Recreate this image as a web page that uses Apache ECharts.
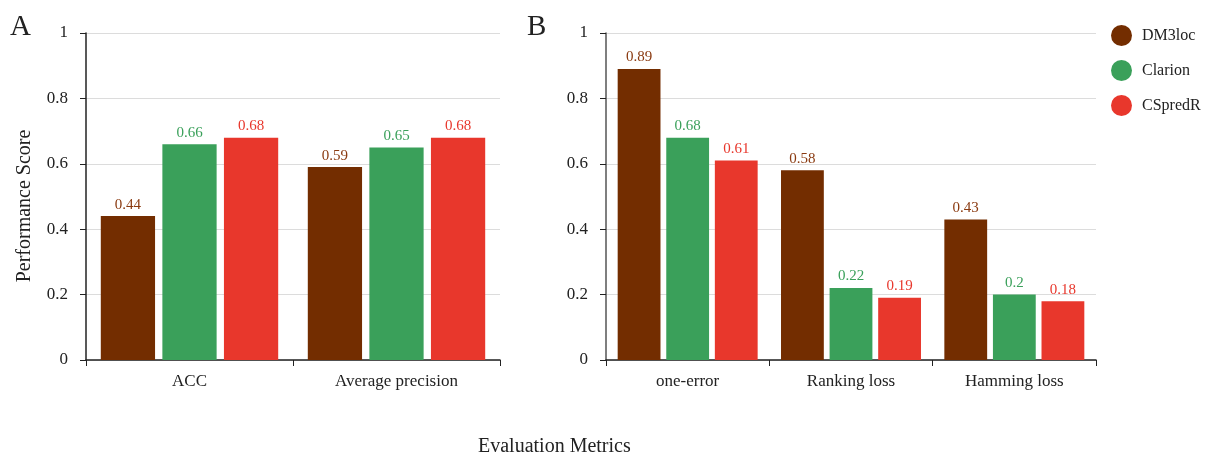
<!DOCTYPE html>
<html><head><meta charset="utf-8">
<script src="https://cdn.jsdelivr.net/npm/echarts@6/dist/echarts.min.js"></script>
<style>html,body{margin:0;padding:0;background:#fff}#c{width:1205px;height:459px}</style>
</head><body><div id="c"></div>
<script>
const seriesNames = ['DM3loc', 'Clarion', 'CSpredR'];
const categoriesA = ['ACC', 'Average precision'];
const categoriesB = ['one-error', 'Ranking loss', 'Hamming loss'];
const dm3locA = [0.44, 0.59];
const clarionA = [0.66, 0.65];
const cspredrA = [0.68, 0.68];
const dm3locB = [0.89, 0.58, 0.43];
const clarionB = [0.68, 0.22, 0.20];
const cspredrB = [0.61, 0.19, 0.18];
const yTicks = [0, 0.2, 0.4, 0.6, 0.8, 1];

const colors = ['#732d00', '#3aa05a', '#e8372c'];
const labelColors = ['#8a3a10', '#3aa05a', '#e8372c'];
const FONT = '"Liberation Serif", "DejaVu Serif", serif';

const chart = echarts.init(document.getElementById('c'), null, {renderer: 'canvas'});

function yAxis(gi) {
  return {
    type: 'value', gridIndex: gi, min: 0, max: 1, interval: 0.2,
    axisLine: {show: true, lineStyle: {color: gi === 0 ? '#222' : '#555', width: 1.5}},
    axisTick: {show: true, length: 6, lineStyle: {color: '#222'}},
    axisLabel: {fontFamily: FONT, fontSize: 17, color: '#222', margin: 18,
      formatter: v => String(+v.toFixed(1))},
    splitLine: {show: true, lineStyle: {color: '#dcdcdc', width: 1}}
  };
}
function xAxis(gi, cats) {
  return {
    type: 'category', gridIndex: gi, data: cats,
    axisLine: {show: true, lineStyle: {color: '#222', width: 1.5}},
    axisTick: {show: true, alignWithLabel: false, length: 6, inside: false, lineStyle: {color: '#222'}},
    axisLabel: {fontFamily: FONT, fontSize: 17, color: '#222', margin: 13}
  };
}
function bars(gi, arrs) {
  return arrs.map((arr, i) => ({
    name: seriesNames[i], type: 'bar', xAxisIndex: gi, yAxisIndex: gi,
    data: arr, barGap: '13.5%', barCategoryGap: '14.3%',
    itemStyle: {color: colors[i]},
    label: {show: true, position: 'top', distance: 4, fontFamily: FONT, fontSize: 15,
      color: labelColors[i], formatter: p => String(p.value)}
  }));
}

chart.setOption({
  animation: false,
  backgroundColor: '#fff',
  textStyle: {fontFamily: FONT},
  grid: [
    {left: 86, top: 33, width: 414, height: 327},
    {left: 606, top: 33, width: 490, height: 327}
  ],
  xAxis: [xAxis(0, categoriesA), xAxis(1, categoriesB)],
  yAxis: [yAxis(0), yAxis(1)],
  legend: {
    orient: 'vertical', left: 1106, top: 20, itemGap: 14,
    icon: 'circle', itemWidth: 21, itemHeight: 21,
    textStyle: {fontFamily: FONT, fontSize: 16, color: '#222', padding: [0, 0, 0, 5]},
    data: seriesNames
  },
  graphic: [
    {type: 'text', left: 10, top: 13, style: {text: 'A', font: '29px ' + FONT, fill: '#222'}},
    {type: 'text', left: 527, top: 13, style: {text: 'B', font: '29px ' + FONT, fill: '#222'}},
    {type: 'text', x: 25, y: 206, rotation: Math.PI / 2,
      style: {text: 'Performance Score', font: '20px ' + FONT, fill: '#222', align: 'center', verticalAlign: 'middle'}},
    {type: 'text', left: 478, top: 437, style: {text: 'Evaluation Metrics', font: '20px ' + FONT, fill: '#222'}}
  ],
  series: [...bars(0, [dm3locA, clarionA, cspredrA]), ...bars(1, [dm3locB, clarionB, cspredrB])]
});
</script></body></html>
